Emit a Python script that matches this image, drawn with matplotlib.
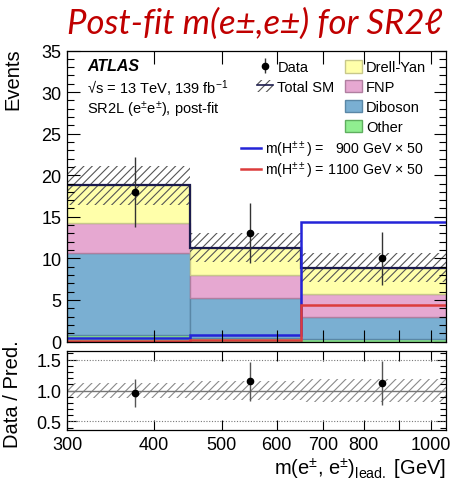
import numpy as np
import matplotlib
matplotlib.use("Agg")
import matplotlib.pyplot as plt
from matplotlib.patches import Patch
from matplotlib.lines import Line2D
from matplotlib.ticker import FixedLocator, FixedFormatter, MultipleLocator, NullLocator

plt.rcParams["font.family"] = ["Liberation Sans", "DejaVu Sans"]
plt.rcParams["mathtext.fontset"] = "custom"
plt.rcParams["mathtext.rm"] = "Liberation Sans"
plt.rcParams["mathtext.it"] = "Liberation Sans:italic"
plt.rcParams["mathtext.bf"] = "Liberation Sans:bold"
plt.rcParams["hatch.linewidth"] = 0.8

# binning in leading-lepton pair mass [GeV]
bin_edges = [300, 450, 650, 1050]

# post-fit background yields per bin
other = [0.8, 0.4, 0.25]
diboson = [9.9, 4.8, 2.75]
fnp = [3.6, 2.8, 2.7]
drell_yan = [4.5, 3.3, 3.2]
bkg_unc = [2.35, 1.7, 1.7]

# observed events
data = [18, 13, 10]
data_err = [4.2, 3.6, 3.2]

# signal (x50)
sig_900 = [0.4, 0.8, 14.4]
sig_1100 = [0.1, 0.2, 4.4]

x_ticks = [300, 400, 500, 600, 700, 800, 900, 1000]
x_labels = ["300", "400", "500", "600", "700", "800", "", "1000"]

W, H = 460, 481
fig = plt.figure(figsize=(W / 100, H / 100), dpi=100)


def px(x0, y0, x1, y1):
    # pixel box (from top-left) -> figure fraction rect
    return [x0 / W, 1 - y1 / H, (x1 - x0) / W, (y1 - y0) / H]


ax = fig.add_axes(px(67, 51.5, 446, 342.5))
rax = fig.add_axes(px(67, 352, 446, 431), sharex=ax)

edges = np.array(bin_edges, dtype=float)
widths = np.diff(edges)
centers = edges[:-1] + widths / 2

components = [
    (other, "#90EE90", "#5fae5f", "Other"),
    (diboson, "#7AAFD2", "#5a87a6", "Diboson"),
    (fnp, "#E6A8D1", "#b07fa0", "FNP"),
    (drell_yan, "#FFFFAA", "#c8c88a", "Drell-Yan"),
]
bottom = np.zeros(len(centers))
bkg_handles = []
for vals, fc, ec, name in components:
    ax.bar(edges[:-1], vals, width=widths, bottom=bottom, align="edge",
           color=fc, edgecolor=ec, linewidth=1.0)
    bottom = bottom + np.array(vals)
    bkg_handles.append((Patch(facecolor=fc, edgecolor=ec, linewidth=1.0), name))
total = bottom
unc = np.array(bkg_unc)

# total SM and its uncertainty
ax.bar(edges[:-1], 2 * unc, width=widths, bottom=total - unc, align="edge",
       fill=False, hatch="////", edgecolor="#555555", linewidth=0)
ax.stairs(total, edges, baseline=None, color="#1b1b4d", linewidth=1.6)

# signals
ax.stairs(sig_900, edges, baseline=None, color="#2424d8", linewidth=1.8)
ax.stairs(sig_1100, edges, baseline=None, color="#dc3c3c", linewidth=1.8)

data_h = ax.errorbar(centers, data, yerr=data_err, fmt="o", color="black",
                     ecolor="#333333", elinewidth=1.0, markersize=4.5, capsize=0)

ax.set_xscale("log")
ax.set_xlim(300, 1050)
ax.set_ylim(0, 35)
ax.yaxis.set_major_locator(MultipleLocator(5))
ax.yaxis.set_minor_locator(MultipleLocator(1))

# ratio panel
ratio = np.array(data) / total
ratio_err = np.array(data_err) / total
rel_unc = unc / total
rax.bar(edges[:-1], 2 * rel_unc, width=widths, bottom=1 - rel_unc, align="edge",
        fill=False, hatch="////", edgecolor="#8a8a8a", linewidth=0)
rax.axhline(1.0, color="#777777", linewidth=1.0)
for yv in (0.5, 1.5):
    rax.axhline(yv, color="#777777", linewidth=0.8, linestyle=(0, (1, 1.5)))
rax.errorbar(centers, ratio, yerr=ratio_err, fmt="o", color="black",
             ecolor="#555555", elinewidth=1.0, markersize=4.5, capsize=0)
rax.set_ylim(0.36, 1.64)
rax.yaxis.set_major_locator(FixedLocator([0.5, 1.0, 1.5]))
rax.yaxis.set_major_formatter(FixedFormatter(["0.5", "1.0", "1.5"]))
rax.yaxis.set_minor_locator(MultipleLocator(0.1))

for a in (ax, rax):
    a.xaxis.set_major_locator(FixedLocator(x_ticks))
    a.xaxis.set_minor_locator(NullLocator())
    a.tick_params(which="both", direction="in", top=True, right=True,
                  labelsize=13, pad=4)
    a.tick_params(which="major", length=9, width=0.8)
    a.tick_params(which="minor", length=5, width=0.8)
    for s in a.spines.values():
        s.set_linewidth(0.9)
rax.tick_params(which="major", length=7)
rax.tick_params(which="minor", length=4)
rax.xaxis.set_major_formatter(FixedFormatter(x_labels))
ax.tick_params(axis="x", labelbottom=False)

ax.set_ylabel("Events", fontsize=14.5, loc="top")
ax.yaxis.set_label_coords(-0.118, 1.01)
rax.set_ylabel("Data / Pred.", fontsize=14.5)
rax.yaxis.set_label_coords(-0.118, 0.47)
rax.set_xlabel(r"m(e$^{\pm}$, e$^{\pm}$)$_{\mathrm{lead.}}$ [GeV]",
               fontsize=14.5, loc="right", labelpad=2)

# labels
ax.text(0.053, 0.947, "ATLAS", transform=ax.transAxes, fontsize=11.5,
        fontweight="bold", fontstyle="italic", va="center")
ax.text(0.053, 0.872, "\u221as = 13 TeV, 139 fb$^{-1}$", transform=ax.transAxes,
        fontsize=10.5, va="center")
ax.text(0.053, 0.799, r"SR2L (e$^{\pm}$e$^{\pm}$), post-fit",
        transform=ax.transAxes, fontsize=10.5, va="center")

leg_kw = dict(frameon=False, fontsize=10.5, borderpad=0, borderaxespad=0,
              labelspacing=0.38, handletextpad=0.3,
              bbox_transform=fig.transFigure, loc="upper left")

tot_h = (Patch(facecolor="white", edgecolor="#555555", hatch="////", linewidth=0),
         Line2D([], [], color="#1b1b4d", linewidth=1.2))
leg1 = fig.legend([data_h, tot_h], ["Data", "Total SM"],
                  bbox_to_anchor=(257 / W, 1 - 61 / H),
                  handlelength=1.1, handleheight=0.95, **leg_kw)
hs, ls = zip(*bkg_handles[::-1])
leg2 = fig.legend(list(hs), list(ls), bbox_to_anchor=(345 / W, 1 - 61 / H),
                  handlelength=1.15, handleheight=0.95, **leg_kw)
sig_h = [Line2D([], [], color="#2424d8", linewidth=1.8),
         Line2D([], [], color="#dc3c3c", linewidth=1.8)]
leg3 = fig.legend(sig_h, [r"m(H$^{\pm\pm}$) =   900 GeV $\times$ 50",
                          r"m(H$^{\pm\pm}$) = 1100 GeV $\times$ 50"],
                  bbox_to_anchor=(241 / W, 1 - 140 / H),
                  handlelength=1.4, handleheight=0.95,
                  **{**leg_kw, "fontsize": 10.2, "labelspacing": 0.05})

fig.text(255 / W, 1 - 24 / H, "Post-fit m(e\u00b1,e\u00b1) for SR2\u2113",
         family=["Lato", "DejaVu Sans"], fontstyle="italic", fontsize=25,
         color="#C00000", ha="center", va="center")

fig.savefig("out.png", dpi=100)
